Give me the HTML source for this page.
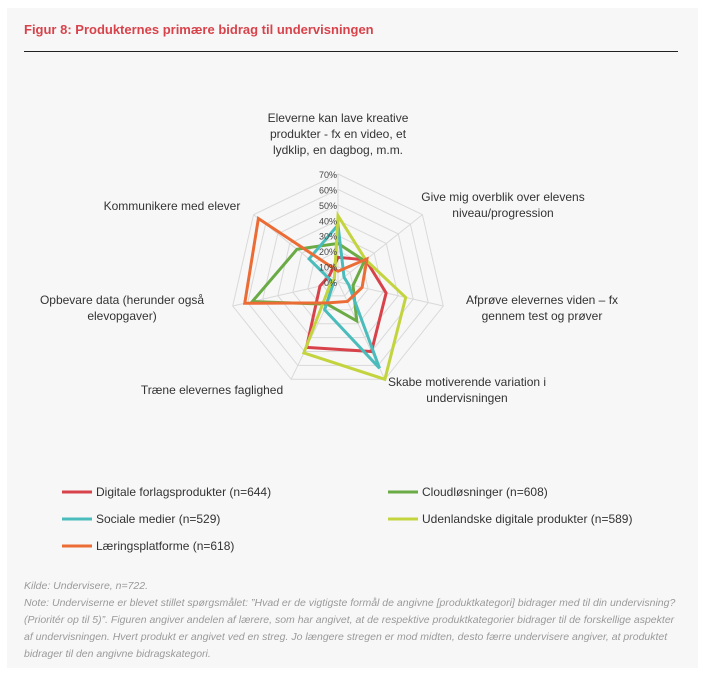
<!DOCTYPE html>
<html><head><meta charset="utf-8">
<style>
body{margin:0;width:704px;height:681px;background:#fff;font-family:"Liberation Sans",sans-serif;overflow:hidden}
#panel{position:absolute;left:7px;top:8px;width:691px;height:660px;background:#f7f7f7}
#title{position:absolute;left:24px;top:22px;color:#d8434b;font-weight:bold;font-size:13px}
#rule{position:absolute;left:24px;top:51px;width:654px;height:1px;background:#222}
#src{position:absolute;left:24px;top:578px;width:660px;color:#9a9a9a;font-style:italic;font-size:10.5px;line-height:17px}
svg{position:absolute;left:0;top:0}
</style></head><body>
<div id="panel"></div>
<div id="title">Figur 8: Produkternes primære bidrag til undervisningen</div>
<div id="rule"></div>
<svg id="chart" width="704" height="681"></svg>
<div id="src">Kilde: Undervisere, n=722.<br>Note: Underviserne er blevet stillet spørgsmålet: ”Hvad er de vigtigste formål de angivne [produktkategori] bidrager med til din undervisning? (Prioritér op til 5)”. Figuren angiver andelen af lærere, som har angivet, at de respektive produktkategorier bidrager til de forskellige aspekter af undervisningen. Hvert produkt er angivet ved en streg. Jo længere stregen er mod midten, desto færre undervisere angiver, at produktet bidrager til den angivne bidragskategori.</div>
<script>
const categories=["Eleverne kan lave kreative|produkter - fx en video, et|lydklip, en dagbog, m.m.","Give mig overblik over elevens|niveau/progression","Afprøve elevernes viden – fx|gennem test og prøver","Skabe motiverende variation i|undervisningen","Træne elevernes faglighed","Opbevare data (herunder også|elevopgaver)","Kommunikere med elever"];
const seriesNames=["Digitale forlagsprodukter (n=644)","Cloudløsninger (n=608)","Sociale medier (n=529)","Udenlandske digitale produkter (n=589)","Læringsplatforme (n=618)"];
const digitale=[16,23,32,50,47,12,7];
const cloud=[25,22,10,28,16,57,34];
const sociale=[37,5,7,62,20,3,24];
const udenlandske=[43,23,45,70,51,5,3];
const laering=[7,24,16,14,15,62,66];
const tickLabels=["0%","10%","20%","30%","40%","50%","60%","70%"];
const colors=["#d8434b","#6aab45","#4bbcbc","#c3d43f","#ec6c35"];
const allSeries=[digitale,cloud,sociale,udenlandske,laering];
const NS="http://www.w3.org/2000/svg",svg=document.getElementById('chart');
const cx=338,cy=282,R=108,max=70,n=categories.length;
function pt(i,v){const a=i*2*Math.PI/n;const r=v/max*R;return [cx+r*Math.sin(a),cy-r*Math.cos(a)];}
function mk(t,at){const e=document.createElementNS(NS,t);for(const k in at)e.setAttribute(k,at[k]);svg.appendChild(e);return e;}
tickLabels.forEach((t,k)=>{if(k===0)return;const p=[];for(let i=0;i<n;i++)p.push(pt(i,k*10).join(','));
const g=mk('polygon',{points:p.join(' '),fill:'none',stroke:'#d9d9d9','stroke-width':1});

});
for(let i=0;i<n;i++){const p=pt(i,max);const l=mk('line',{x1:cx,y1:cy,x2:p[0],y2:p[1],stroke:'#d9d9d9'});

}
allSeries.forEach((s,j)=>{const p=s.map((v,i)=>pt(i,v).join(','));
const e=mk('polygon',{points:p.join(' '),fill:'none',stroke:colors[j],'stroke-width':3,'stroke-linejoin':'miter'});

});
tickLabels.forEach((t,k)=>{const e=mk('text',{x:cx-1,y:cy-k*10/max*R+4,'text-anchor':'end','font-size':9,fill:'#444'});e.textContent=t;

});
const lp=[[338,122,'middle'],[503,201,'middle'],[542,304,'middle'],[467,386,'middle'],[212,394,'middle'],[122,304,'middle'],[172,210,'middle']];
categories.forEach((c,i)=>{const t=mk('text',{x:lp[i][0],y:lp[i][1],'text-anchor':lp[i][2],'font-size':12,fill:'#333'});


c.split('|').forEach((ln,k)=>{const s=document.createElementNS(NS,'tspan');s.setAttribute('x',lp[i][0]);s.setAttribute('dy',k?16:0);s.textContent=ln;t.appendChild(s);});});
const lpos=[[62,492],[388,492],[62,519],[388,519],[62,546]];
seriesNames.forEach((nm,j)=>{const [x,y]=lpos[j];
const l=mk('line',{x1:x,y1:y,x2:x+30,y2:y,stroke:colors[j],'stroke-width':3});


const t=mk('text',{x:x+34,y:y+4,'font-size':12,fill:'#333'});t.textContent=nm;

});
</script>
</body></html>
